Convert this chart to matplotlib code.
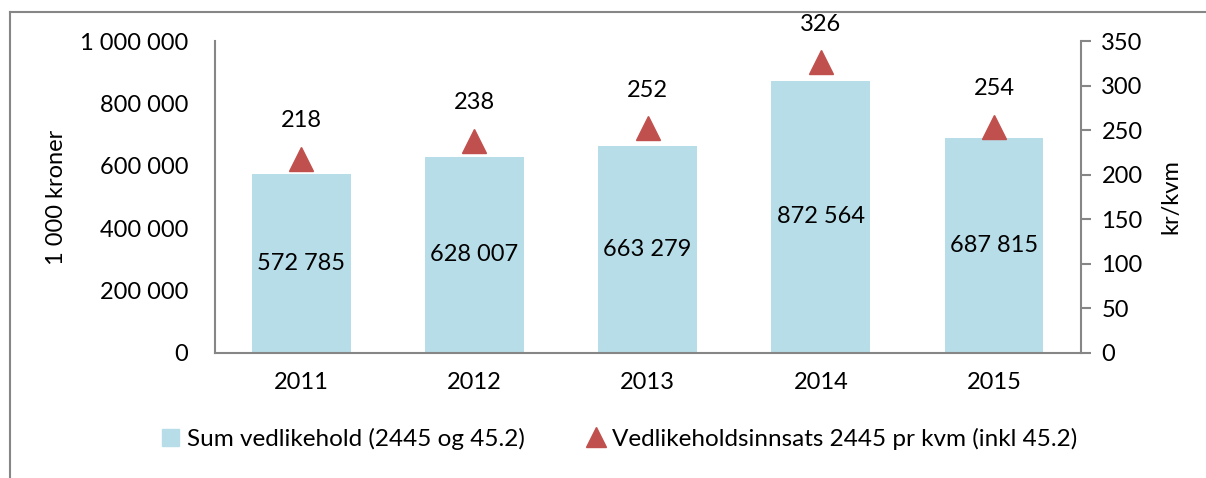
import matplotlib.pyplot as plt
from matplotlib.ticker import FuncFormatter
from matplotlib.lines import Line2D
from matplotlib.patches import Patch

plt.rcParams['font.family'] = ['Lato', 'DejaVu Sans']

years = ['2011', '2012', '2013', '2014', '2015']
sum_vedlikehold = [572785, 628007, 663279, 872564, 687815]
kr_per_kvm = [218, 238, 252, 326, 254]

bar_color = '#B7DDE8'
tri_color = '#C0504D'
grey = '#868686'
fs = 17


def space_fmt(v, pos=None):
    return '{:,.0f}'.format(v).replace(',', ' ')


fig = plt.figure(figsize=(12.06, 4.78), dpi=100)
ax = fig.add_axes([0.178, 0.262, 0.718, 0.652])
ax2 = ax.twinx()

x = list(range(len(years)))
ax.bar(x, sum_vedlikehold, width=0.57, color=bar_color, zorder=2)
for xi, v in zip(x, sum_vedlikehold):
    ax.text(xi, v / 2, space_fmt(v), ha='center', va='center', fontsize=fs)

ax2.plot(x, kr_per_kvm, linestyle='none', marker='^', markersize=17,
         color=tri_color, zorder=3)
for xi, v in zip(x, kr_per_kvm):
    ax2.annotate(str(v), (xi, v), xytext=(0, 20), textcoords='offset points',
                 ha='center', va='bottom', fontsize=fs)

ax.set_xlim(-0.5, 4.5)
ax.set_ylim(0, 1000000)
ax.set_yticks(range(0, 1000001, 200000))
ax.yaxis.set_major_formatter(FuncFormatter(space_fmt))
ax.set_xticks(x)
ax.set_xticklabels(years)
ax2.set_ylim(0, 350)
ax2.set_yticks(range(0, 351, 50))

for a in (ax, ax2):
    for s in a.spines.values():
        s.set_visible(False)
ax.spines['left'].set_visible(True)
ax.spines['bottom'].set_visible(True)
ax2.spines['right'].set_visible(True)
for s in (ax.spines['left'], ax.spines['bottom'], ax2.spines['right']):
    s.set_color(grey)
    s.set_linewidth(1.5)

ax.tick_params(axis='y', length=0, pad=19, labelsize=fs)
ax.tick_params(axis='x', length=0, pad=14, labelsize=fs)
ax2.tick_params(axis='y', length=7, width=1.5, color=grey, direction='out',
                pad=8, labelsize=fs)

ax.set_ylabel('1 000 kroner', fontsize=fs)
ax.yaxis.set_label_coords(-0.171, 0.5)
ax2.set_ylabel('kr/kvm', fontsize=fs)
ax2.yaxis.set_label_coords(1.092, 0.5)

handles = [Patch(color=bar_color),
           Line2D([], [], linestyle='none', marker='^', markersize=15, color=tri_color)]
labels = ['Sum vedlikehold (2445 og 45.2)', 'Vedlikeholdsinnsats 2445 pr kvm (inkl 45.2)']
fig.legend(handles, labels, loc='center', bbox_to_anchor=(0.514, 0.082), ncol=2,
           frameon=False, fontsize=17.5, handlelength=0.7, handletextpad=0.3,
           columnspacing=2.6)

# outer chart border
fig.add_artist(Line2D([10 / 1206, 10 / 1206], [0, 1 - 12 / 478], color=grey, lw=1.5))
fig.add_artist(Line2D([10 / 1206, 1], [1 - 12 / 478, 1 - 12 / 478], color=grey, lw=1.5))

fig.savefig('out.png', dpi=100)
